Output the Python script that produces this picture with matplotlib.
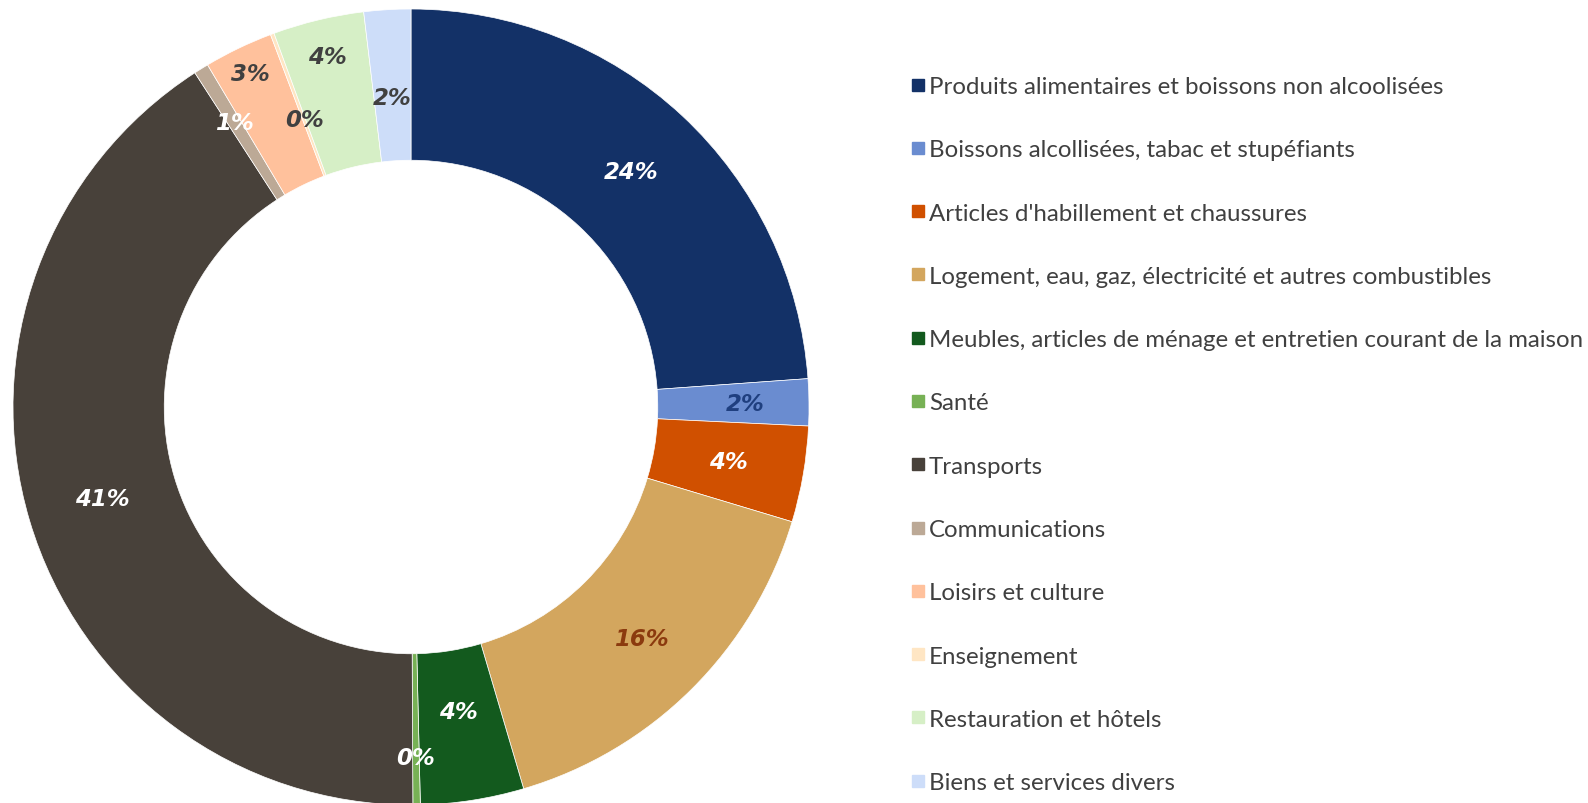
import matplotlib
matplotlib.use("Agg")
import matplotlib.pyplot as plt
from matplotlib.lines import Line2D
import numpy as np

categories = [
    "Produits alimentaires et boissons non alcoolisées",
    "Boissons alcollisées, tabac et stupéfiants",
    "Articles d'habillement et chaussures",
    "Logement, eau, gaz, électricité et autres combustibles",
    "Meubles, articles de ménage et entretien courant de la maison",
    "Santé",
    "Transports",
    "Communications",
    "Loisirs et culture",
    "Enseignement",
    "Restauration et hôtels",
    "Biens et services divers",
]
values = [23.9, 1.9, 3.9, 15.8, 4.2, 0.3, 41.0, 0.6, 2.8, 0.15, 3.7, 1.9]

colors = ["#133167", "#6A8CD0", "#D05000", "#D3A65E", "#135A1E", "#77B155",
          "#48413A", "#BCA996", "#FFC19C", "#FFE6C4", "#D6EFC6", "#CDDDF9"]
label_colors = ["white", "#1F3F7F", "white", "#8B3A0E", "white", "white",
                "white", "white", "#404040", "#404040", "#404040", "#404040"]
label_radius = [0.81, 0.84, 0.81, 0.82, 0.775, 0.88, 0.81, 0.84, 0.93, 0.77, 0.905, 0.78]

W, H = 1588, 804
fig = plt.figure(figsize=(W / 100, H / 100), dpi=100)
cx, cy, R = 411, 408, 398
ax = fig.add_axes([(cx - R) / W, (H - cy - R) / H, 2 * R / W, 2 * R / H])

wedges, _ = ax.pie(values, colors=colors, startangle=90, counterclock=False,
                   radius=1.0, wedgeprops=dict(width=0.38, edgecolor="white", linewidth=0.5))
ax.set_xlim(-1, 1)
ax.set_ylim(-1, 1)
ax.axis("off")

total = sum(values)
for w, v, lc, lr in zip(wedges, values, label_colors, label_radius):
    ang = np.deg2rad((w.theta1 + w.theta2) / 2)
    ax.text(lr * np.cos(ang), lr * np.sin(ang), f"{round(v / total * 100):.0f}%",
            ha="center", va="center", color=lc, fontsize=16.5,
            fontweight="bold", fontstyle="italic", family="DejaVu Sans")

handles = [Line2D([], [], marker="s", linestyle="none", markersize=8,
                  markerfacecolor=c, markeredgecolor=c) for c in colors]
leg = fig.legend(handles, categories, loc="upper left",
                 bbox_to_anchor=(912 / W, 1 - 77 / H), frameon=False,
                 prop=dict(family="Lato", size=17.3), labelcolor="#404040",
                 labelspacing=1.76, handlelength=0.5, handletextpad=0.2,
                 borderpad=0, borderaxespad=0)

fig.savefig("out.png", dpi=100)
